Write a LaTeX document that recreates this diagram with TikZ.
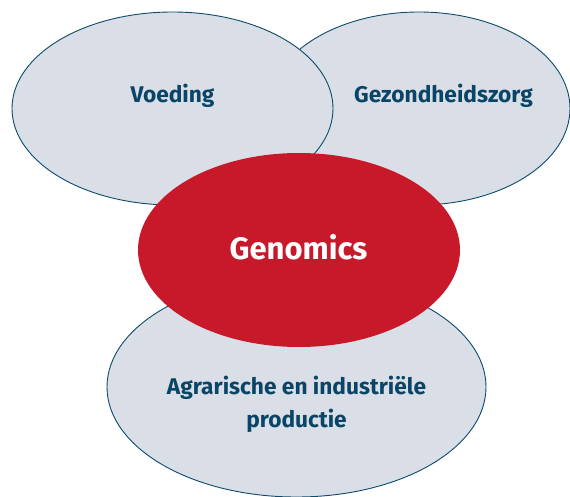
\documentclass[tikz,border=0pt]{standalone}
\usepackage{fontspec}
\setmainfont{Fira Sans}
\usetikzlibrary{shapes.geometric}
\definecolor{ovalfill}{HTML}{DADFE7}
\definecolor{ovalline}{HTML}{0B4A6B}
\definecolor{ovaltext}{HTML}{0A4466}
\definecolor{genred}{HTML}{C8192B}
\begin{document}
\begin{tikzpicture}[x=1pt,y=-1pt,
  oval/.style={ellipse, draw=ovalline, fill=ovalfill, line width=0.9pt, inner sep=0pt},
  lbl/.style={text=ovaltext, font=\bfseries\fontsize{22.7}{33}\selectfont, align=center}]
\useasboundingbox (0,0) rectangle (570,497);
\node[oval, minimum width=302pt, minimum height=193pt] (gez) at (419,108.5) {};
\node[oval, minimum width=321pt, minimum height=193pt] (voe) at (172.5,108.5) {};
\node[oval, minimum width=379pt, minimum height=220pt] (agr) at (296.5,387) {};
\node[ellipse, fill=genred, inner sep=0pt, minimum width=322pt, minimum height=194pt] (gen) at (299,250) {};
\node[lbl] (tvoe) at (172.5,96) {Voeding};
\node[lbl] (tgez) at (443.5,96) {Gezondheidszorg};
\node[lbl] (tagr) at (296.5,404) {Agrarische en industriële\\productie};
\node[text=white, font=\bfseries\fontsize{31}{36}\selectfont] (tgen) at (298.5,247) {Genomics};
\end{tikzpicture}
\end{document}
